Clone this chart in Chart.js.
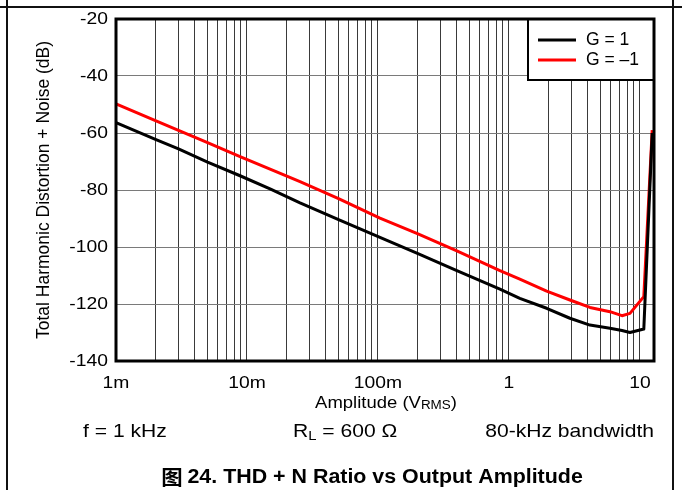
<!DOCTYPE html>
<html>
<head>
<meta charset="utf-8">
<script src="https://cdn.jsdelivr.net/npm/chart.js"></script>
<style>
  html, body { margin: 0; padding: 0; background: #fff; }
  #wrap { width: 682px; height: 490px; position: relative; }
</style>
</head>
<body>
<div id="wrap"><canvas id="thdChart" width="682" height="490"></canvas></div>
<script>
// amplitude in V rms, values in dB
const amplitude = [0.001, 0.002, 0.003, 0.005, 0.00885, 0.015, 0.0254, 0.05, 0.1035, 0.2, 0.4, 0.853, 1.21, 1.94, 2.92, 4.15, 5.9, 7.29, 8.39, 10.7, 12.4];
const thdGainPos = [-56.4, -62.2, -65.6, -70.2, -75.0, -79.6, -84.5, -90.4, -96.6, -102.2, -108.3, -114.8, -118.0, -121.5, -125.0, -127.4, -128.5, -129.3, -130.0, -128.8, -60];
const thdGainNeg = [-49.8, -55.7, -59.1, -63.4, -68.3, -72.7, -77.1, -83.0, -89.9, -95.3, -101.4, -108.3, -111.3, -115.5, -118.6, -121.2, -122.7, -124.1, -123.3, -117.4, -59];

const seriesLabels = ["G = 1", "G = \u20131"];
const seriesColors = ["#000000", "#ff0000"];
const xTickValues = [0.001, 0.01, 0.1, 1, 10];
const xTickLabels = ["1m", "10m", "100m", "1", "10"];
const yTickValues = [-20, -40, -60, -80, -100, -120, -140];

const X_MIN = 0.001;
const X_MAX = 12.8;

function toPoints(xs, ys) {
  return xs.map((x, i) => ({ x, y: ys[i] }));
}

// text helper, glyphs in the reference are a bit wider than plain Arial
function txt(ctx, s, x, y, size, opts = {}) {
  ctx.save();
  ctx.translate(x, y);
  if (opts.rotate) ctx.rotate(opts.rotate);
  if (opts.rotate) ctx.scale(1, opts.sx || 1);
  else ctx.scale(opts.sx || 1, 1);
  ctx.font = `${opts.bold ? "bold " : ""}${size}px ${opts.family || "Arial, 'Liberation Sans', sans-serif"}`;
  ctx.fillStyle = "#000";
  ctx.textAlign = opts.align || "left";
  ctx.textBaseline = "middle";
  ctx.fillText(s, 0, 0);
  ctx.restore();
}

// runs of text with subscripts: [{t, size, dy}]
function runs(ctx, parts, x, y, sx, align) {
  const font = (p) => `${p.size}px Arial, 'Liberation Sans', sans-serif`;
  let total = 0;
  parts.forEach((p) => {
    ctx.font = font(p);
    total += ctx.measureText(p.t).width * sx;
  });
  let cx = align === "center" ? x - total / 2 : x;
  parts.forEach((p) => {
    ctx.save();
    ctx.font = font(p);
    const w = ctx.measureText(p.t).width * sx;
    ctx.translate(cx, y + (p.dy || 0));
    ctx.scale(sx, 1);
    ctx.fillStyle = "#000";
    ctx.textAlign = "left";
    ctx.textBaseline = "middle";
    ctx.fillText(p.t, 0, 0);
    ctx.restore();
    cx += w;
  });
}

const decorPlugin = {
  id: "decorPlugin",
  beforeDraw(chart) {
    const { ctx } = chart;
    ctx.save();
    ctx.fillStyle = "#fff";
    ctx.fillRect(0, 0, chart.width, chart.height);
    ctx.restore();
  },
  afterDatasetsDraw(chart) {
    const { ctx, chartArea: ca, scales } = chart;
    ctx.save();

    // legend box
    const lx = 528, ly = ca.top, lw = ca.right - 528, lh = 61;
    ctx.fillStyle = "#fff";
    ctx.fillRect(lx, ly, lw, lh);
    ctx.strokeStyle = "#000";
    ctx.lineWidth = 2;
    ctx.strokeRect(lx, ly, lw, lh);
    seriesLabels.forEach((label, i) => {
      const yy = 40 + i * 20;
      ctx.strokeStyle = seriesColors[i];
      ctx.lineWidth = 3;
      ctx.beginPath();
      ctx.moveTo(538, yy);
      ctx.lineTo(576, yy);
      ctx.stroke();
      txt(ctx, label, 586, yy, 17.5, { sx: 1.0 });
    });

    // plot frame
    ctx.strokeStyle = "#000";
    ctx.lineWidth = 3;
    ctx.strokeRect(ca.left, ca.top, ca.right - ca.left, ca.bottom - ca.top);

    // tick labels
    yTickValues.forEach((v) => {
      txt(ctx, String(v), 108, scales.y.getPixelForValue(v), 16.5, { align: "right", sx: 1.17 });
    });
    xTickValues.forEach((v, i) => {
      txt(ctx, xTickLabels[i], scales.x.getPixelForValue(v), 383, 16.5, { align: "center", sx: 1.17 });
    });
    ctx.restore();
  },
  afterDraw(chart) {
    const { ctx, chartArea: ca } = chart;
    ctx.save();

    // outer page frame
    ctx.strokeStyle = "#111";
    ctx.lineWidth = 2;
    ctx.beginPath();
    ctx.moveTo(0, 7);
    ctx.lineTo(chart.width, 7);
    ctx.moveTo(7, 0);
    ctx.lineTo(7, chart.height);
    ctx.moveTo(673, 0);
    ctx.lineTo(673, chart.height);
    ctx.stroke();

    // axis titles
    txt(ctx, "Total Harmonic Distortion + Noise (dB)", 44, (ca.top + ca.bottom) / 2, 17.5,
      { align: "center", rotate: -Math.PI / 2, sx: 1.1 });
    runs(ctx, [
      { t: "Amplitude (V", size: 16.5 },
      { t: "RMS", size: 12, dy: 3 },
      { t: ")", size: 16.5 },
    ], 386, 403, 1.12, "center");

    // conditions
    txt(ctx, "f = 1 kHz", 83, 432, 18.5, { sx: 1.14 });
    runs(ctx, [
      { t: "R", size: 18.5 },
      { t: "L", size: 13, dy: 4 },
      { t: " = 600 \u03a9", size: 18.5 },
    ], 293, 432, 1.14, "left");
    txt(ctx, "80-kHz bandwidth", 654, 432, 18.5, { align: "right", sx: 1.14 });

    // caption
    ctx.save();
    ctx.translate(372, 477);
    ctx.scale(1.07, 1);
    ctx.fillStyle = "#000";
    ctx.textBaseline = "middle";
    ctx.font = "bold 20px Arial, 'Liberation Sans', 'Noto Sans CJK SC', sans-serif";
    const cjk = "\u56fe ";
    const rest = "24. THD + N Ratio vs Output Amplitude";
    ctx.font = "bold 20px 'Noto Sans CJK SC', sans-serif";
    const w1 = ctx.measureText(cjk).width;
    ctx.font = "bold 20px Arial, 'Liberation Sans', sans-serif";
    const w2 = ctx.measureText(rest).width;
    const start = -(w1 + w2) / 2;
    ctx.textAlign = "left";
    ctx.font = "bold 20px 'Noto Sans CJK SC', sans-serif";
    ctx.fillText(cjk, start, 0);
    ctx.font = "bold 20px Arial, 'Liberation Sans', sans-serif";
    ctx.fillText(rest, start + w1, 0);
    ctx.restore();

    ctx.restore();
  },
};

function logMinorTicks() {
  const ticks = [];
  for (let e = -3; e <= 1; e += 1) {
    for (let m = 1; m <= 9; m += 1) {
      const v = m * Math.pow(10, e);
      if (v >= X_MIN && v <= X_MAX) ticks.push({ value: v });
    }
  }
  return ticks;
}

const ctx = document.getElementById("thdChart");
new Chart(ctx, {
  type: "line",
  data: {
    datasets: [
      {
        label: seriesLabels[0],
        data: toPoints(amplitude, thdGainPos),
        borderColor: seriesColors[0],
        borderWidth: 3,
        pointRadius: 0,
        tension: 0,
        borderJoinStyle: "round",
      },
      {
        label: seriesLabels[1],
        data: toPoints(amplitude, thdGainNeg),
        borderColor: seriesColors[1],
        borderWidth: 3,
        pointRadius: 0,
        tension: 0,
        borderJoinStyle: "round",
      },
    ],
  },
  options: {
    responsive: false,
    animation: false,
    devicePixelRatio: 1,
    layout: { padding: { top: 19, right: 28, left: 0, bottom: 0 } },
    plugins: { legend: { display: false }, tooltip: { enabled: false } },
    scales: {
      x: {
        type: "logarithmic",
        min: X_MIN,
        max: X_MAX,
        afterBuildTicks: (scale) => { scale.ticks = logMinorTicks(); },
        afterFit: (scale) => { scale.height = 129; },
        ticks: { display: false },
        grid: { color: "#3a3a3a", lineWidth: 1, drawTicks: false },
        border: { display: false },
      },
      y: {
        type: "linear",
        min: -140,
        max: -20,
        afterFit: (scale) => { scale.width = 116; },
        ticks: { display: false, stepSize: 20 },
        grid: { color: "#7a7a7a", lineWidth: 1, drawTicks: false },
        border: { display: false },
      },
    },
  },
  plugins: [decorPlugin],
});
</script>
</body>
</html>
